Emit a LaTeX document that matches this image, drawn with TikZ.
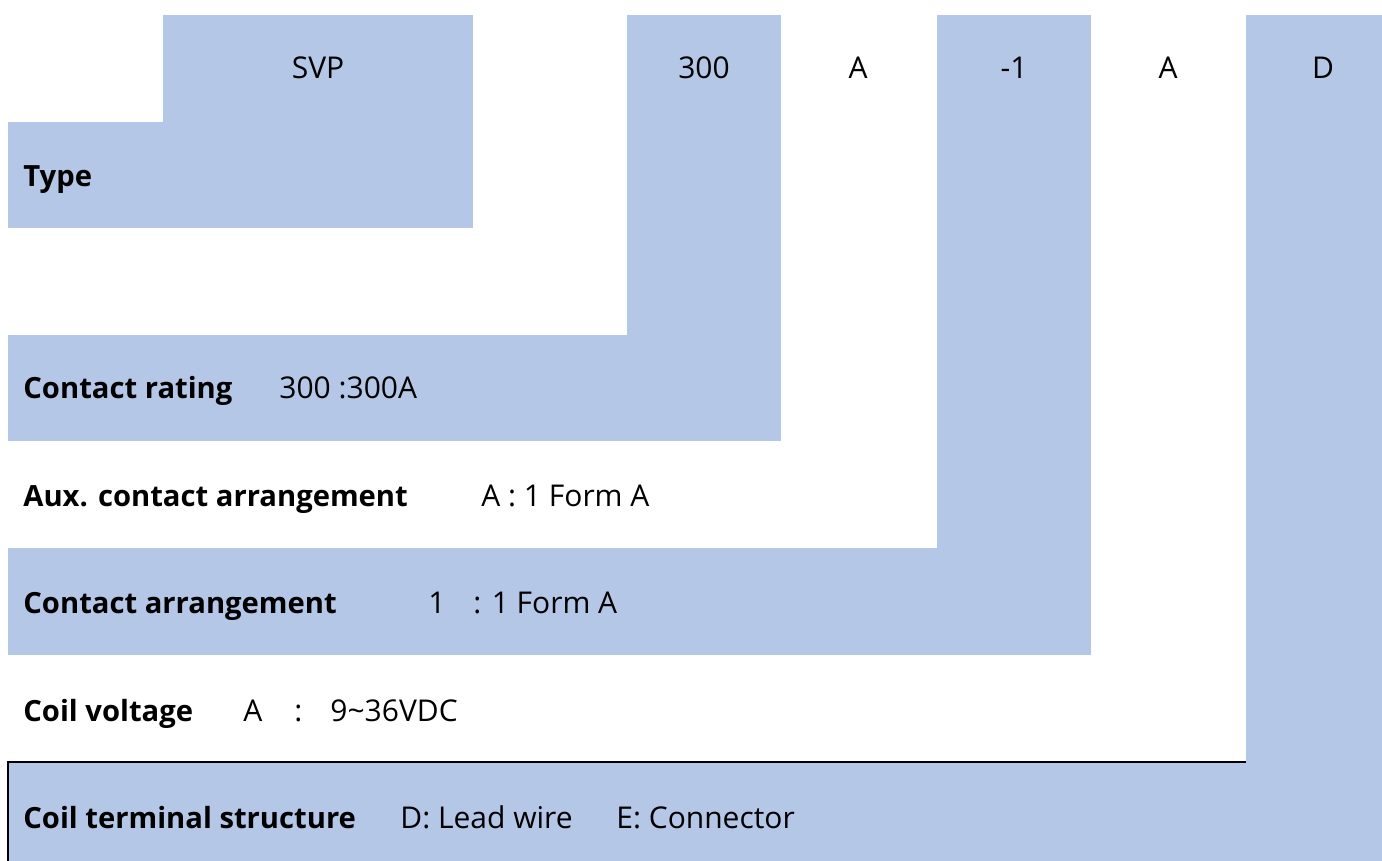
\documentclass[tikz,border=0pt]{standalone}
\usepackage{fontspec}
\setmainfont{Open Sans}
\definecolor{cellblue}{HTML}{B4C7E7}

\tikzset{
    cell/.style={fill=cellblue,draw=none},
    key/.style={anchor=base west,inner sep=0pt,font=\fontsize{14.6}{18}\selectfont\bfseries},
    val/.style={anchor=base west,inner sep=0pt,font=\fontsize{15}{18}\selectfont},
    code/.style={anchor=base,inner sep=0pt,font=\fontsize{15}{18}\selectfont}
}

\begin{document}
\begin{tikzpicture}[x=0.5pt,y=-0.5pt]
    \useasboundingbox(0,0)rectangle(1382,861);
    % blue blocks, one per code
    \fill[cell](163,15)rectangle(473,228);
    \fill[cell](8,122)rectangle(163,228);
    \fill[cell](627,15)rectangle(781,441);
    \fill[cell](8,335)rectangle(627,441);
    \fill[cell](937,15)rectangle(1091,655);
    \fill[cell](8,548)rectangle(937,655);
    \fill[cell](1246,15)rectangle(1382,861);
    \fill[cell](8,762)rectangle(1246,861);
    \draw[line width=1pt](8,861)--(8,762)--(1246,762);

    % codes on top
    \node[code](svp)at(318,79){SVP};
    \node[code](rating)at(704,79){300};
    \node[code](aux)at(858,79){A};
    \node[code](arr)at(1014,79){-1};
    \node[code](coil)at(1168,79){A};
    \node[code](term)at(1323,79){D};

    % rows
    \node[key](type)at(23,187){Type};
    \node[key](ratingkey)at(23,399){Contact rating};
    \node[val](ratingval)at(279,399){300 :300A};
    \node[key](auxkey)at(23,506){Aux. contact arrangement};
    \node[val](auxval)at(481,506){A : 1 Form A};
    \node[key](arrkey)at(23,613){Contact arrangement};
    \node[val](arrcode)at(428,613){1};
    \node[val](arrval)at(473,613){: 1 Form A};
    \node[key](coilkey)at(23,721){Coil voltage};
    \node[val](coilcode)at(243,721){A};
    \node[val](coilsep)at(294,721){:};
    \node[val](coilval)at(330,721){9\char`~36VDC};
    \node[key](termkey)at(23,828){Coil terminal structure};
    \node[val](termd)at(400,828){D: Lead wire};
    \node[val](terme)at(616,828){E: Connector};
\end{tikzpicture}
\end{document}
